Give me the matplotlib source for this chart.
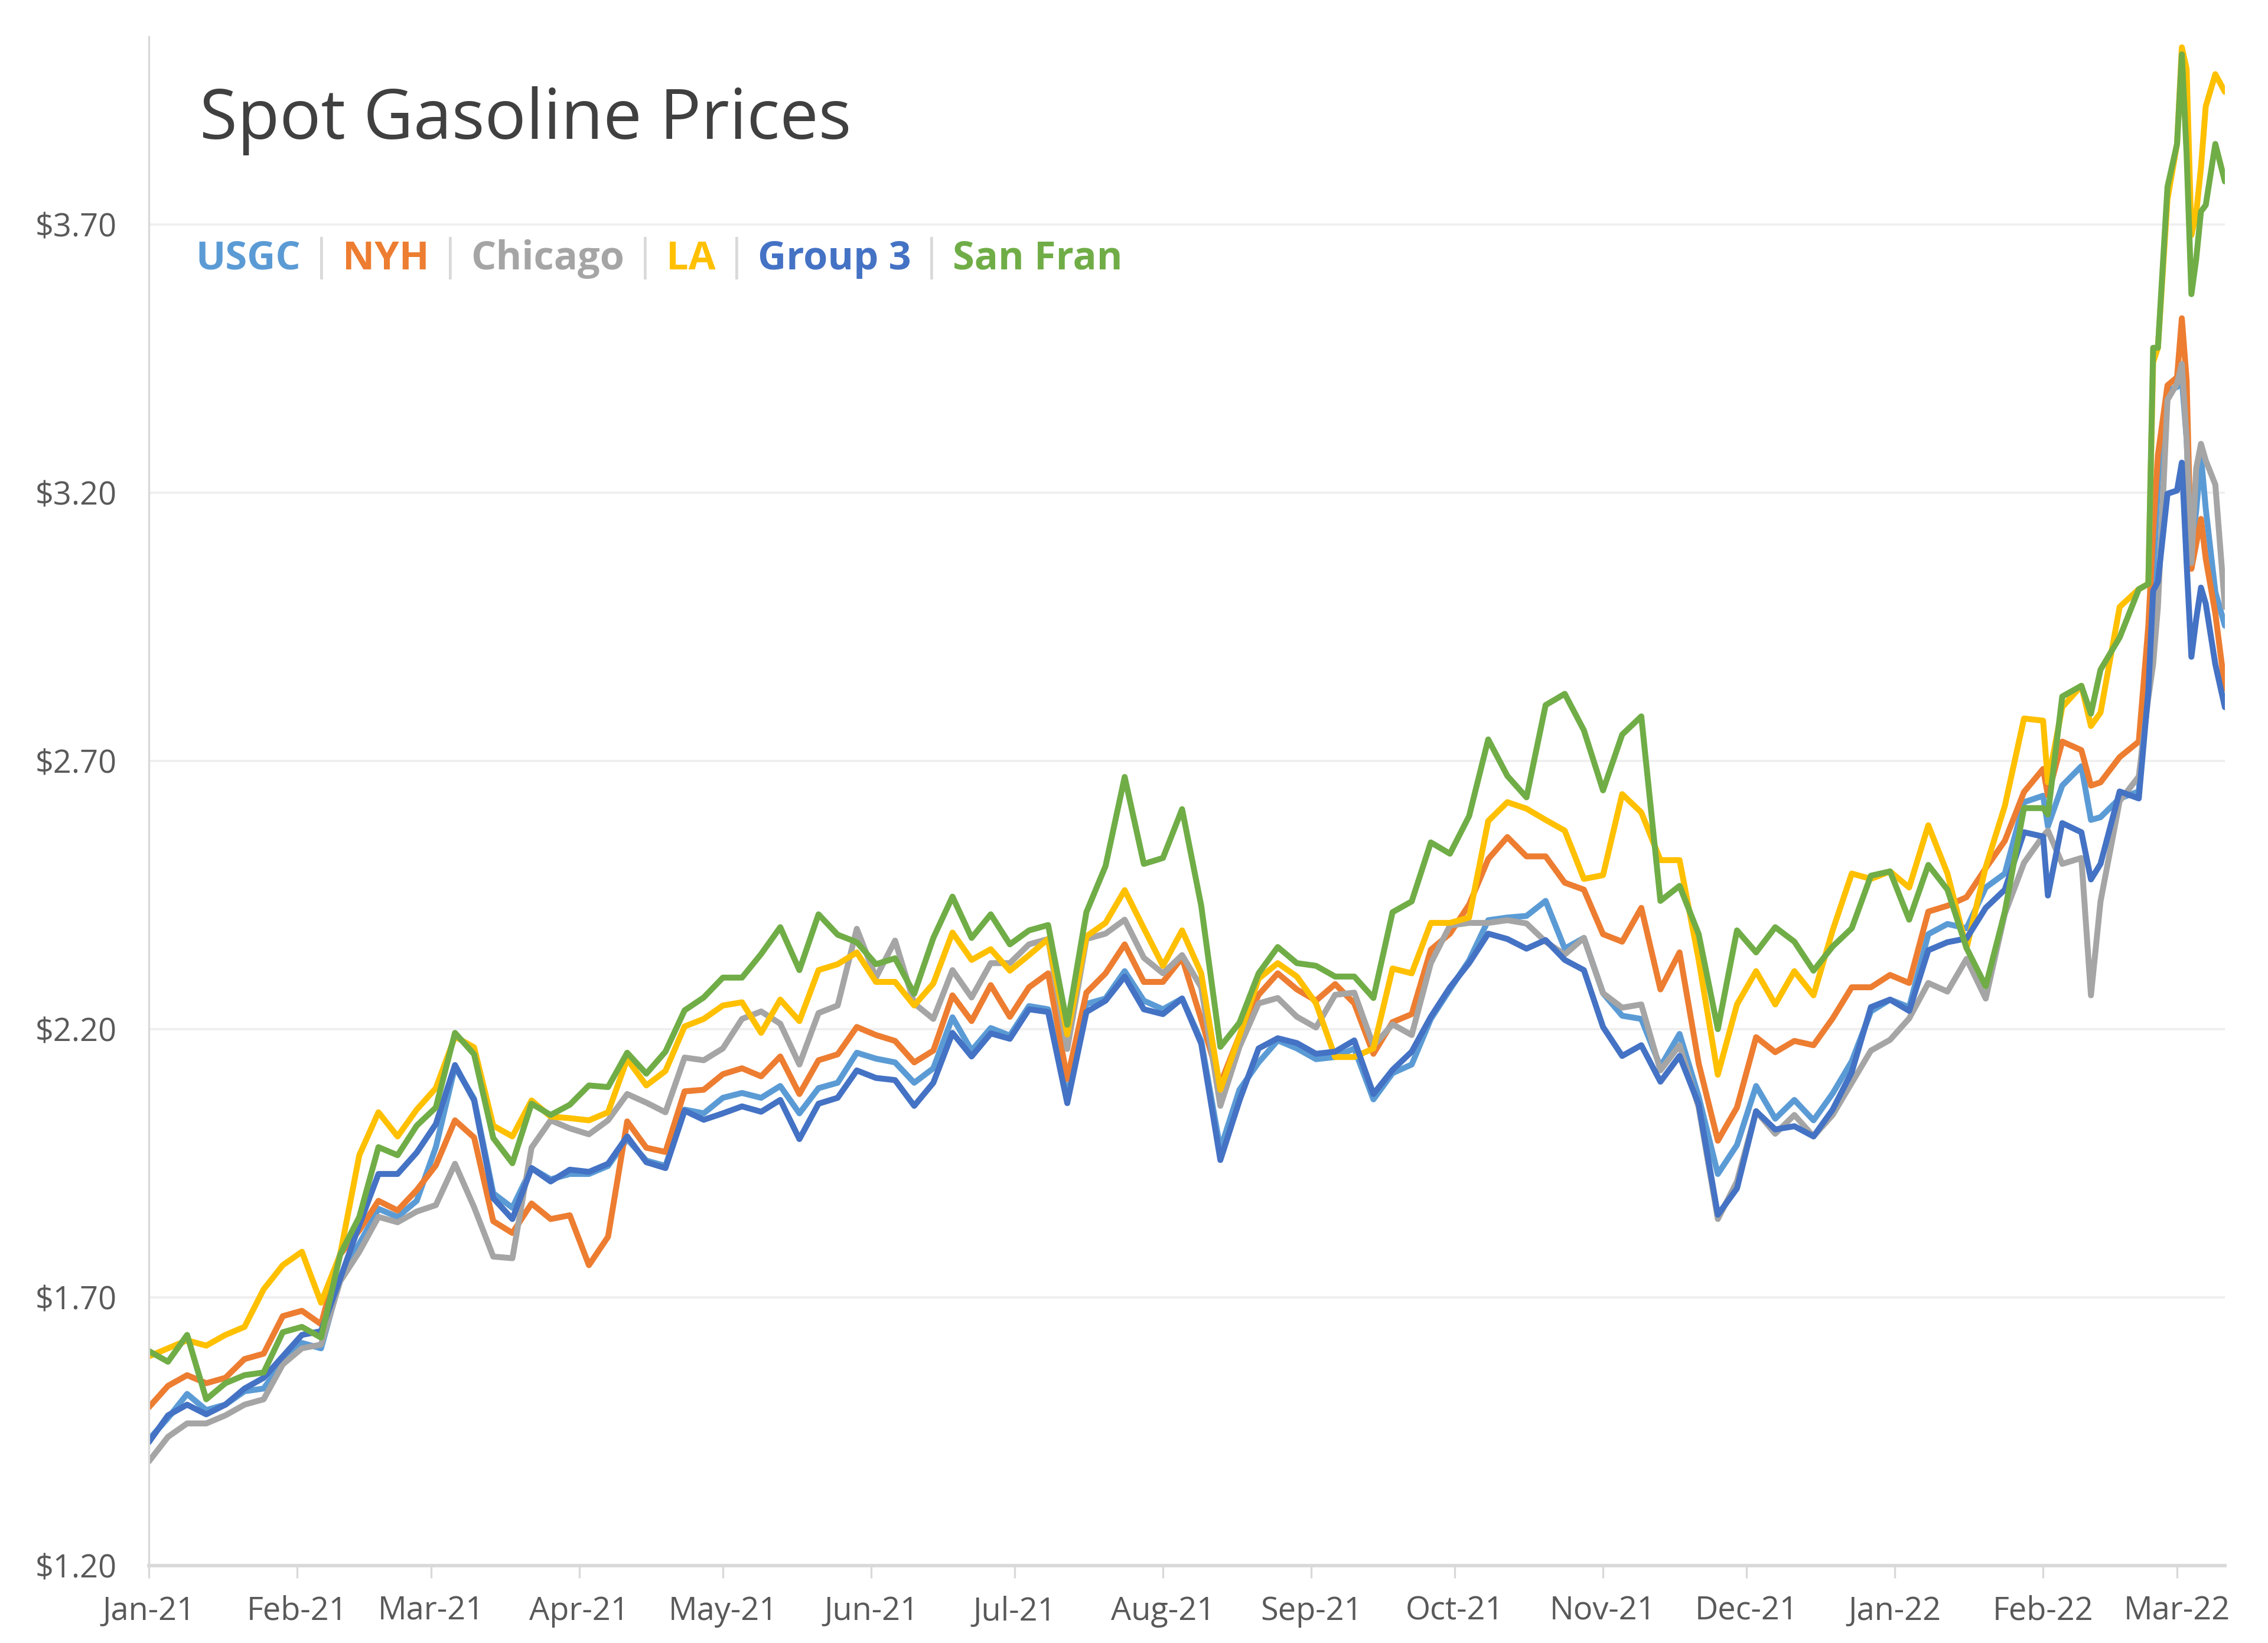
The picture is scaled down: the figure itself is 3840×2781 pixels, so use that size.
import matplotlib
matplotlib.use('Agg')
import matplotlib.pyplot as plt
import matplotlib.dates as mdates
from matplotlib.ticker import FuncFormatter
import pandas as pd

plt.rcParams['font.family'] = ['Open Sans', 'DejaVu Sans']

# ---------------- data ----------------
start_date = '2021-01-04'
day_offsets = list(range(0, 397, 4)) + [397, 400, 404, 406, 408, 412, 416, 418, 419, 420,
                                        422, 424, 425, 426, 427, 428, 429, 430, 432, 434]

usgc = [1.435, 1.475, 1.52, 1.49, 1.50, 1.525, 1.53, 1.58, 1.615, 1.605, 1.735, 1.80, 1.865, 1.85, 1.88,
        1.98, 2.13, 2.07, 1.894, 1.867, 1.941, 1.92, 1.93, 1.93, 1.945, 1.995, 1.955, 1.945, 2.05,
        2.043, 2.072, 2.081, 2.072, 2.094, 2.043, 2.09, 2.10, 2.156, 2.145, 2.138, 2.10, 2.127, 2.222, 2.16,
        2.202, 2.188, 2.243, 2.237, 2.072, 2.247, 2.257, 2.308, 2.253, 2.237, 2.257, 2.178, 1.976, 2.087,
        2.138, 2.179, 2.164, 2.144, 2.148, 2.164, 2.069, 2.118, 2.134, 2.219, 2.274, 2.328, 2.403, 2.408,
        2.411, 2.439, 2.35, 2.37, 2.267, 2.225, 2.219, 2.13, 2.191, 2.074, 1.93, 1.984, 2.094, 2.033, 2.068,
        2.03, 2.08, 2.14, 2.233, 2.255, 2.241, 2.377, 2.396, 2.388, 2.464, 2.49, 2.623, 2.635,
        2.578, 2.654, 2.69, 2.59, 2.595, 2.63, 2.643, 2.87, 3.034, 3.22, 3.39, 3.397, 3.413, 3.30, 3.093,
        3.166, 3.268, 3.17, 3.015, 2.952]

nyh = [1.495, 1.535, 1.555, 1.54, 1.55, 1.585, 1.595, 1.665, 1.675, 1.65, 1.78, 1.825, 1.88, 1.862, 1.90,
       1.946, 2.03, 1.998, 1.842, 1.82, 1.875, 1.846, 1.853, 1.76, 1.813, 2.028, 1.979, 1.971, 2.084,
       2.087, 2.116, 2.127, 2.112, 2.149, 2.079, 2.142, 2.153, 2.204, 2.189, 2.178, 2.138, 2.16, 2.263, 2.215,
       2.282, 2.223, 2.278, 2.304, 2.107, 2.268, 2.304, 2.358, 2.288, 2.288, 2.333, 2.218, 2.098, 2.188,
       2.264, 2.304, 2.274, 2.253, 2.284, 2.248, 2.154, 2.213, 2.228, 2.348, 2.378, 2.432, 2.517, 2.558,
       2.522, 2.522, 2.473, 2.46, 2.377, 2.363, 2.426, 2.274, 2.343, 2.136, 1.992, 2.054, 2.185, 2.157, 2.178,
       2.17, 2.22, 2.278, 2.278, 2.301, 2.286, 2.419, 2.43, 2.446, 2.50, 2.551, 2.642, 2.685,
       2.636, 2.736, 2.72, 2.654, 2.66, 2.707, 2.736, 2.952, 3.127, 3.27, 3.40, 3.415, 3.525, 3.41, 3.058,
       3.104, 3.151, 3.077, 2.975, 2.835]

chicago = [1.394, 1.44, 1.465, 1.465, 1.48, 1.50, 1.51, 1.575, 1.605, 1.612, 1.73, 1.785, 1.85, 1.84, 1.86,
           1.872, 1.949, 1.868, 1.776, 1.773, 1.979, 2.03, 2.015, 2.004, 2.03, 2.079, 2.063, 2.045, 2.147,
           2.142, 2.164, 2.219, 2.233, 2.21, 2.134, 2.23, 2.244, 2.387, 2.296, 2.365, 2.248, 2.219, 2.31, 2.259,
           2.323, 2.323, 2.358, 2.368, 2.163, 2.368, 2.378, 2.404, 2.333, 2.304, 2.338, 2.278, 2.057, 2.167,
           2.248, 2.258, 2.223, 2.203, 2.264, 2.268, 2.169, 2.209, 2.189, 2.323, 2.393, 2.398, 2.398, 2.403,
           2.397, 2.363, 2.339, 2.37, 2.267, 2.24, 2.246, 2.123, 2.17, 2.054, 1.846, 1.916, 2.047, 2.005, 2.04,
           2.00, 2.04, 2.10, 2.16, 2.18, 2.22, 2.286, 2.27, 2.331, 2.257, 2.415, 2.51, 2.56,
           2.57, 2.508, 2.519, 2.263, 2.438, 2.625, 2.671, 2.818, 2.88, 2.987, 3.373, 3.403, 3.44, 3.30, 3.069,
           3.245, 3.291, 3.26, 3.215, 2.987]

la = [1.59, 1.605, 1.62, 1.61, 1.63, 1.645, 1.715, 1.76, 1.785, 1.69, 1.78, 1.965, 2.045, 2.00, 2.05,
      2.09, 2.186, 2.166, 2.02, 2.00, 2.067, 2.037, 2.034, 2.03, 2.045, 2.144, 2.095, 2.122, 2.205,
      2.219, 2.244, 2.25, 2.193, 2.255, 2.215, 2.31, 2.321, 2.343, 2.288, 2.288, 2.244, 2.285, 2.38, 2.329,
      2.349, 2.309, 2.338, 2.368, 2.19, 2.373, 2.398, 2.459, 2.388, 2.318, 2.384, 2.304, 2.087, 2.188,
      2.294, 2.323, 2.298, 2.248, 2.148, 2.148, 2.164, 2.313, 2.304, 2.398, 2.398, 2.408, 2.588, 2.623,
      2.611, 2.59, 2.57, 2.48, 2.487, 2.638, 2.604, 2.515, 2.515, 2.329, 2.115, 2.246, 2.308, 2.246, 2.308,
      2.263, 2.384, 2.49, 2.48, 2.494, 2.464, 2.58, 2.49, 2.351, 2.502, 2.616, 2.779, 2.775,
      2.66, 2.80, 2.84, 2.765, 2.79, 2.987, 3.02, 3.03, 3.443, 3.47, 3.747, 3.85, 4.03, 3.99, 3.68,
      3.72, 3.806, 3.92, 3.98, 3.947]

group3 = [1.43, 1.48, 1.50, 1.482, 1.50, 1.53, 1.55, 1.59, 1.63, 1.637, 1.735, 1.835, 1.93, 1.93, 1.97,
          2.023, 2.133, 2.067, 1.885, 1.846, 1.941, 1.916, 1.938, 1.934, 1.949, 2.00, 1.952, 1.941, 2.048,
          2.031, 2.043, 2.056, 2.046, 2.068, 1.995, 2.061, 2.072, 2.123, 2.109, 2.105, 2.057, 2.10, 2.193, 2.149,
          2.192, 2.182, 2.237, 2.232, 2.062, 2.232, 2.253, 2.298, 2.237, 2.228, 2.257, 2.173, 1.956, 2.067,
          2.164, 2.183, 2.174, 2.154, 2.158, 2.179, 2.079, 2.124, 2.158, 2.223, 2.278, 2.323, 2.378, 2.368,
          2.35, 2.366, 2.329, 2.31, 2.204, 2.15, 2.17, 2.102, 2.15, 2.06, 1.854, 1.903, 2.047, 2.013, 2.019,
          2.00, 2.05, 2.12, 2.241, 2.255, 2.234, 2.347, 2.362, 2.369, 2.426, 2.46, 2.567, 2.559,
          2.449, 2.584, 2.567, 2.479, 2.508, 2.643, 2.63, 2.83, 3.017, 3.034, 3.198, 3.204, 3.256, 3.069, 2.894,
          2.964, 3.023, 2.993, 2.88, 2.80]

san_fran = [1.60, 1.58, 1.63, 1.51, 1.54, 1.555, 1.56, 1.635, 1.645, 1.625, 1.78, 1.85, 1.98, 1.965, 2.02,
            2.054, 2.193, 2.153, 1.997, 1.95, 2.061, 2.04, 2.059, 2.095, 2.092, 2.156, 2.117, 2.158, 2.235,
            2.259, 2.296, 2.296, 2.34, 2.39, 2.31, 2.414, 2.376, 2.362, 2.321, 2.332, 2.266, 2.37, 2.447, 2.37,
            2.414, 2.358, 2.384, 2.394, 2.208, 2.418, 2.504, 2.67, 2.508, 2.519, 2.61, 2.43, 2.167, 2.212,
            2.304, 2.353, 2.323, 2.318, 2.298, 2.298, 2.258, 2.418, 2.438, 2.548, 2.527, 2.597, 2.74, 2.672,
            2.632, 2.804, 2.825, 2.757, 2.645, 2.749, 2.783, 2.439, 2.467, 2.377, 2.20, 2.384, 2.343, 2.39, 2.363,
            2.309, 2.354, 2.388, 2.486, 2.494, 2.404, 2.506, 2.46, 2.351, 2.28, 2.419, 2.612, 2.612,
            2.60, 2.82, 2.84, 2.788, 2.87, 2.93, 3.02, 3.03, 3.47, 3.47, 3.77, 3.85, 4.017, 3.83, 3.57,
            3.635, 3.724, 3.736, 3.85, 3.78]

series_names = ['USGC', 'NYH', 'Chicago', 'LA', 'Group 3', 'San Fran']
series_values = [usgc, nyh, chicago, la, group3, san_fran]
series_colors = ['#5B9BD5', '#ED7D31', '#A5A5A5', '#FFC000', '#4472C4', '#70AD47']
y_ticks = [1.20, 1.70, 2.20, 2.70, 3.20, 3.70]
title_text = 'Spot Gasoline Prices'

# ---------------- figure ----------------
W, H = 3840, 2781
fig = plt.figure(figsize=(W / 300, H / 300), dpi=300)
fig.patch.set_facecolor('white')
ax = fig.add_axes([252 / W, 1 - 2650 / H, (3767 - 252) / W, (2650 - 62) / H])

dates = pd.Timestamp(start_date) + pd.to_timedelta(day_offsets, unit='D')

for name, vals, col in zip(series_names, series_values, series_colors):
    ax.plot(dates, vals, color=col, lw=2.4, solid_joinstyle='round', solid_capstyle='round', label=name)

ax.set_ylim(1.20, 4.05)
ax.set_yticks(y_ticks)
ax.yaxis.set_major_formatter(FuncFormatter(lambda v, p: f'${v:.2f}'))
ax.set_xlim(dates[0], dates[-1])
month_ticks = [pd.Timestamp(start_date) + pd.DateOffset(months=i) for i in range(15)]
ax.set_xticks(month_ticks)
ax.xaxis.set_major_formatter(mdates.DateFormatter('%b-%y'))

for s in ['top', 'right']:
    ax.spines[s].set_visible(False)
ax.spines['left'].set_color('#D9D9D9')
ax.spines['left'].set_linewidth(0.8)
ax.spines['bottom'].set_color('#D9D9D9')
ax.spines['bottom'].set_linewidth(1.4)
ax.yaxis.grid(True, color='#EFEFEF', lw=0.9)
ax.set_axisbelow(True)

ax.tick_params(axis='x', direction='out', length=5, width=0.8, color='#D9D9D9',
               labelsize=13, labelcolor='#595959', pad=7)
ax.tick_params(axis='y', length=0, labelsize=13, labelcolor='#595959', pad=13)

# title
fig.text(338 / W, 1 - 235 / H, title_text, fontsize=28, color='#404040', va='baseline', ha='left')

# legend as coloured text with separators
fig.canvas.draw()
renderer = fig.canvas.get_renderer()
x = 331 / W
y = 1 - 456 / H
gap = 16 / W
for i, (name, col) in enumerate(zip(series_names, series_colors)):
    t = fig.text(x, y, name, fontsize=16, fontweight='bold', color=col, va='baseline', ha='left')
    bb = t.get_window_extent(renderer)
    x = bb.x1 / W + gap
    if i < len(series_names) - 1:
        s = fig.text(x, y, '|', fontsize=17, color='#D9D9D9', va='baseline', ha='left')
        bb = s.get_window_extent(renderer)
        x = bb.x1 / W + gap

fig.savefig('out.png', dpi=300, facecolor='white')
